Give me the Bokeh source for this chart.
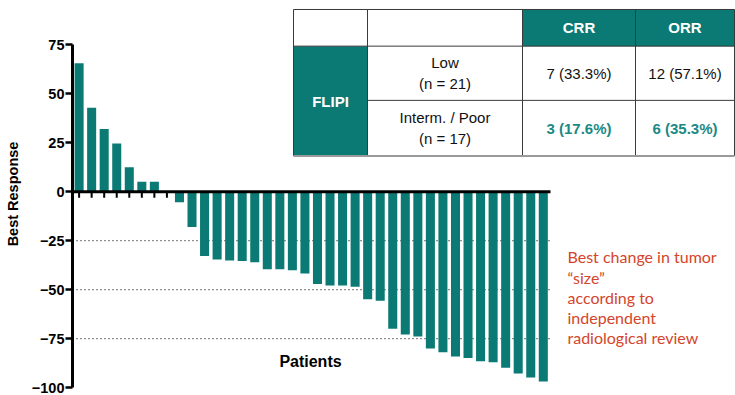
from bokeh.plotting import figure
from bokeh.models import Range1d, FixedTicker, ColumnDataSource
from bokeh.core.properties import value
from bokeh.embed import file_html
from bokeh.resources import INLINE

# ---------------- data ----------------
responses = [65.5, 42.8, 32.0, 24.6, 12.5, 5.1, 5.1, 0.0,
             -5.4, -18.1, -32.9, -34.7, -35.2, -35.4, -36.1, -39.6, -39.6, -40.1,
             -41.8, -47.1, -47.9, -47.9, -48.6, -54.9, -55.7, -70.0, -73.0, -74.0,
             -80.1, -82.0, -84.2, -85.0, -86.6, -87.1, -89.9, -92.8, -94.9, -96.9]
patients = list(range(1, len(responses) + 1))
y_ticks = [-100, -75, -50, -25, 0, 25, 50, 75]
grid_levels = [-25, -50, -75]

table_cols = ["", "", "CRR", "ORR"]
row_group = "FLIPI"
row_labels = [["Low", "(n = 21)"], ["Interm. / Poor", "(n = 17)"]]
crr = ["7 (33.3%)", "3 (17.6%)"]
orr = ["12 (57.1%)", "6 (35.3%)"]
note_lines = ["Best change in tumor", "\u201csize\u201d", "according to",
              "independent", "radiological review"]

# ---------------- styling / layout ----------------
TEAL = "#0B7A74"
TEAL_TXT = "#1B8A84"
RED = "#D4452B"
W, H = 735, 395
LEFT = 72                         # frame left (px)
Y75, Y100 = 44.3, 387.5           # px positions of 75 and -100
SY = (Y100 - Y75) / 175.0
YTOP = 75 + Y75 / SY
BOTTOM_PAD = H - Y100
SX = (542.8 - 78.6) / (len(patients) - 1)
X0 = 1 - (78.6 - LEFT) / SX
X1 = X0 + (W - LEFT) / SX
X_END = X0 + (550 - LEFT) / SX


def px(x):   # pixel x -> data x
    return X0 + (x - LEFT) / SX


def py(y):   # pixel y -> data y
    return YTOP - y / SY


FONT = value("Liberation Sans")

p = figure(width=W, height=H, x_range=Range1d(X0, X1), y_range=Range1d(-100, YTOP),
           x_axis_type=None, output_backend="svg", toolbar_location=None,
           min_border_left=LEFT, min_border_right=0, min_border_top=0,
           min_border_bottom=int(round(BOTTOM_PAD)))
p.outline_line_color = None
p.ygrid.visible = False
p.background_fill_color = "white"
p.border_fill_color = "white"

# y axis
ya = p.yaxis[0]
ya.ticker = FixedTicker(ticks=y_ticks)
ya.bounds = (-100, 75)
ya.axis_line_width = 3
ya.axis_line_color = "black"
ya.major_tick_line_width = 2.5
ya.major_tick_line_color = "black"
ya.major_tick_out = 7
ya.major_tick_in = 0
ya.minor_tick_out = 0
ya.minor_tick_in = 0
ya.major_label_standoff = 1
ya.major_label_text_font = "Liberation Sans"
ya.major_label_text_font_style = "bold"
ya.major_label_text_font_size = "14.5px"
ya.major_label_text_color = "black"
ya.axis_label = "Best Response"
ya.axis_label_text_font = "Liberation Sans"
ya.axis_label_text_font_style = "bold"
ya.axis_label_text_font_size = "14.5px"
ya.axis_label_text_color = "black"
ya.axis_label_standoff = 8

# dotted reference lines
p.segment(x0=[X0] * len(grid_levels), y0=grid_levels, x1=[X_END] * len(grid_levels),
          y1=grid_levels, line_color="#222222", line_width=1.3, line_dash="1 3")

# bars
src = ColumnDataSource(dict(x=patients, top=responses))
p.vbar(x="x", top="top", bottom=0, width=0.72, source=src,
       fill_color=TEAL, line_color=None)

# zero axis and ticks
p.segment(x0=[X0], y0=[0], x1=[X_END], y1=[0], line_color="black", line_width=3)
tick_x = [x for x, v in zip(patients, responses) if v >= 0]
tick_len = 6 / SY
p.segment(x0=tick_x, y0=[0] * len(tick_x), x1=tick_x, y1=[-tick_len] * len(tick_x),
          line_color="black", line_width=2)

p.text(x=[px(310)], y=[py(361)], text=["Patients"], text_font=FONT,
       text_font_style="bold", text_font_size="16px", text_align="center",
       text_baseline="middle", text_color="black")

# ---------------- table ----------------
TX = [293, 367, 522, 635, 734]
TY = [9, 45.7, 100, 155.7]
p.quad(left=[px(TX[2]), px(TX[3]), px(TX[0])],
       right=[px(TX[3]), px(TX[4]), px(TX[1])],
       top=[py(TY[0]), py(TY[0]), py(TY[1])],
       bottom=[py(TY[1]), py(TY[1]), py(TY[3])],
       fill_color=TEAL, line_color=None)
xs, ys = [], []
for x in TX:
    xs.append([px(x), px(x)]); ys.append([py(TY[0]), py(TY[3])])
for y in TY[:2]:
    xs.append([px(TX[0]), px(TX[4])]); ys.append([py(y), py(y)])
xs.append([px(TX[1]), px(TX[4])]); ys.append([py(TY[2]), py(TY[2])])
p.multi_line(xs=xs, ys=ys, line_color="#3a3a3a", line_width=1)
p.segment(x0=[px(TX[0])], y0=[py(TY[3])], x1=[px(TX[4])], y1=[py(TY[3])],
          line_color="#9a9a9a", line_width=2)

cx = [(TX[i] + TX[i + 1]) / 2 for i in range(4)]
hy = (TY[0] + TY[1]) / 2
p.text(x=[px(cx[2]), px(cx[3])], y=[py(hy)] * 2, text=table_cols[2:],
       text_font=FONT, text_font_style="bold", text_font_size="15px",
       text_align="center", text_baseline="middle", text_color="white")
p.text(x=[px(cx[0])], y=[py((TY[1] + TY[3]) / 2)], text=[row_group],
       text_font=FONT, text_font_style="bold", text_font_size="15px",
       text_align="center", text_baseline="middle", text_color="white")
lab_x, lab_y, lab_t = [], [], []
for r, lines in enumerate(row_labels):
    mid = (TY[r + 1] + TY[r + 2]) / 2
    for k, t in enumerate(lines):
        lab_x.append(px(cx[1])); lab_y.append(py(mid - 10.5 + 21 * k)); lab_t.append(t)
p.text(x=lab_x, y=lab_y, text=lab_t, text_font=FONT, text_font_size="15px",
       text_align="center", text_baseline="middle", text_color="#111111")
r1 = (TY[1] + TY[2]) / 2
r2 = (TY[2] + TY[3]) / 2
p.text(x=[px(cx[2]), px(cx[3])], y=[py(r1)] * 2, text=[crr[0], orr[0]],
       text_font=FONT, text_font_size="15px", text_align="center",
       text_baseline="middle", text_color="#111111")
p.text(x=[px(cx[2]), px(cx[3])], y=[py(r2)] * 2, text=[crr[1], orr[1]],
       text_font=FONT, text_font_style="bold", text_font_size="15px",
       text_align="center", text_baseline="middle", text_color=TEAL_TXT)

# ---------------- annotation ----------------
p.text(x=[px(567)] * len(note_lines),
       y=[py(256.7 + 20.2 * i) for i in range(len(note_lines))],
       text=note_lines, text_font=value("Lato"), text_font_size="16px",
       text_align="left", text_baseline="alphabetic", text_color=RED)

open("out.html", "w").write(file_html(p, INLINE))
